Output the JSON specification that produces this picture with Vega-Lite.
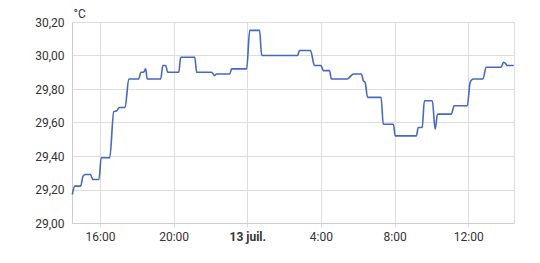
{
  "$schema": "https://vega.github.io/schema/vega-lite/v6.json",
  "autosize": {"type": "none"},
  "padding": {"left": 72, "top": 22, "right": 26, "bottom": 40},
  "width": 442,
  "height": 201,
  "config": {
    "font": "Roboto",
    "view": {"stroke": "#dddddd"}
  },
  "data": {
    "values": [
      {"t": "2024-07-12T14:30", "v": 29.17},
      {"t": "2024-07-12T14:38", "v": 29.22},
      {"t": "2024-07-12T14:57", "v": 29.22},
      {"t": "2024-07-12T15:05", "v": 29.28},
      {"t": "2024-07-12T15:12", "v": 29.29},
      {"t": "2024-07-12T15:29", "v": 29.29},
      {"t": "2024-07-12T15:37", "v": 29.26},
      {"t": "2024-07-12T15:57", "v": 29.26},
      {"t": "2024-07-12T16:04", "v": 29.39},
      {"t": "2024-07-12T16:32", "v": 29.39},
      {"t": "2024-07-12T16:45", "v": 29.665},
      {"t": "2024-07-12T16:55", "v": 29.67},
      {"t": "2024-07-12T17:03", "v": 29.69},
      {"t": "2024-07-12T17:22", "v": 29.69},
      {"t": "2024-07-12T17:34", "v": 29.86},
      {"t": "2024-07-12T18:06", "v": 29.86},
      {"t": "2024-07-12T18:14", "v": 29.90},
      {"t": "2024-07-12T18:22", "v": 29.90},
      {"t": "2024-07-12T18:29", "v": 29.92},
      {"t": "2024-07-12T18:34", "v": 29.86},
      {"t": "2024-07-12T19:18", "v": 29.86},
      {"t": "2024-07-12T19:25", "v": 29.94},
      {"t": "2024-07-12T19:34", "v": 29.94},
      {"t": "2024-07-12T19:41", "v": 29.90},
      {"t": "2024-07-12T20:17", "v": 29.90},
      {"t": "2024-07-12T20:23", "v": 29.99},
      {"t": "2024-07-12T21:09", "v": 29.99},
      {"t": "2024-07-12T21:15", "v": 29.90},
      {"t": "2024-07-12T22:04", "v": 29.90},
      {"t": "2024-07-12T22:13", "v": 29.88},
      {"t": "2024-07-12T22:20", "v": 29.89},
      {"t": "2024-07-12T23:03", "v": 29.89},
      {"t": "2024-07-12T23:09", "v": 29.92},
      {"t": "2024-07-12T23:58", "v": 29.92},
      {"t": "2024-07-13T00:08", "v": 30.15},
      {"t": "2024-07-13T00:40", "v": 30.15},
      {"t": "2024-07-13T00:47", "v": 30.00},
      {"t": "2024-07-13T02:44", "v": 30.00},
      {"t": "2024-07-13T02:50", "v": 30.03},
      {"t": "2024-07-13T03:26", "v": 30.03},
      {"t": "2024-07-13T03:39", "v": 29.94},
      {"t": "2024-07-13T04:00", "v": 29.94},
      {"t": "2024-07-13T04:08", "v": 29.91},
      {"t": "2024-07-13T04:28", "v": 29.91},
      {"t": "2024-07-13T04:34", "v": 29.86},
      {"t": "2024-07-13T05:26", "v": 29.86},
      {"t": "2024-07-13T05:33", "v": 29.87},
      {"t": "2024-07-13T05:46", "v": 29.89},
      {"t": "2024-07-13T06:12", "v": 29.89},
      {"t": "2024-07-13T06:18", "v": 29.85},
      {"t": "2024-07-13T06:24", "v": 29.84},
      {"t": "2024-07-13T06:32", "v": 29.75},
      {"t": "2024-07-13T07:16", "v": 29.75},
      {"t": "2024-07-13T07:23", "v": 29.59},
      {"t": "2024-07-13T07:56", "v": 29.59},
      {"t": "2024-07-13T08:02", "v": 29.52},
      {"t": "2024-07-13T09:11", "v": 29.52},
      {"t": "2024-07-13T09:17", "v": 29.57},
      {"t": "2024-07-13T09:30", "v": 29.57},
      {"t": "2024-07-13T09:37", "v": 29.73},
      {"t": "2024-07-13T10:03", "v": 29.73},
      {"t": "2024-07-13T10:12", "v": 29.56},
      {"t": "2024-07-13T10:20", "v": 29.65},
      {"t": "2024-07-13T11:05", "v": 29.65},
      {"t": "2024-07-13T11:14", "v": 29.70},
      {"t": "2024-07-13T11:57", "v": 29.70},
      {"t": "2024-07-13T12:06", "v": 29.84},
      {"t": "2024-07-13T12:16", "v": 29.86},
      {"t": "2024-07-13T12:48", "v": 29.86},
      {"t": "2024-07-13T12:58", "v": 29.93},
      {"t": "2024-07-13T13:47", "v": 29.93},
      {"t": "2024-07-13T13:55", "v": 29.96},
      {"t": "2024-07-13T14:00", "v": 29.955},
      {"t": "2024-07-13T14:07", "v": 29.94},
      {"t": "2024-07-13T14:28", "v": 29.94}
    ]
  },
  "mark": {"type": "line", "color": "#4468c4", "strokeWidth": 1.6, "interpolate": "monotone"},
  "encoding": {
    "x": {
      "field": "t",
      "type": "temporal",
      "scale": {"domain": [
        {"year": 2024, "month": 7, "date": 12, "hours": 14, "minutes": 29},
        {"year": 2024, "month": 7, "date": 13, "hours": 14, "minutes": 29}
      ], "nice": false},
      "axis": {
        "title": null,
        "values": [
          {"year": 2024, "month": 7, "date": 12, "hours": 16},
          {"year": 2024, "month": 7, "date": 12, "hours": 20},
          {"year": 2024, "month": 7, "date": 13, "hours": 0},
          {"year": 2024, "month": 7, "date": 13, "hours": 4},
          {"year": 2024, "month": 7, "date": 13, "hours": 8},
          {"year": 2024, "month": 7, "date": 13, "hours": 12}
        ],
        "labelExpr": "hours(datum.value) == 0 ? timeFormat(datum.value, '%-d') + ' juil.' : timeFormat(datum.value, '%-H:%M')",
        "labelFontWeight": {"condition": {"test": "hours(datum.value) == 0", "value": "bold"}, "value": "normal"},
        "labelFont": "Roboto",
        "labelFontSize": 12,
        "labelColor": "#333333",
        "labelPadding": 4,
        "tickSize": 4,
        "tickColor": "#dddddd",
        "gridColor": "#dddddd",
        "domainColor": "#cccccc",
        "labelFlush": false,
        "labelOverlap": false
      }
    },
    "y": {
      "field": "v",
      "type": "quantitative",
      "scale": {"domain": [29.0, 30.2], "nice": false, "zero": false},
      "axis": {
        "title": "°C",
        "titleAngle": 0,
        "titleAlign": "left",
        "titleBaseline": "alphabetic",
        "titleX": 1,
        "titleY": -5,
        "titleFont": "Roboto",
        "titleFontSize": 12,
        "titleFontWeight": "normal",
        "titleColor": "#333333",
        "values": [29.0, 29.2, 29.4, 29.6, 29.8, 30.0, 30.2],
        "labelExpr": "replace(format(datum.value, '.2f'), '.', ',')",
        "labelFont": "Roboto",
        "labelFontSize": 12,
        "labelColor": "#333333",
        "labelPadding": 8,
        "ticks": false,
        "gridColor": "#dddddd",
        "domainColor": "#cccccc"
      }
    }
  }
}
